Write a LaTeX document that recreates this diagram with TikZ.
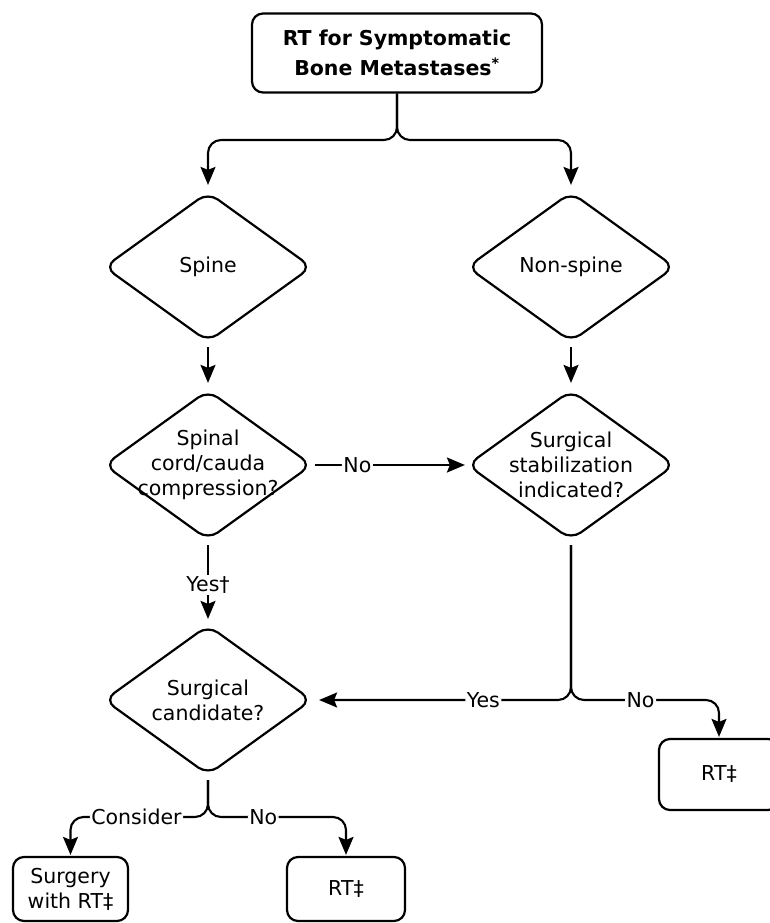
\documentclass[tikz,border=0pt]{standalone}
\usepackage{fontspec}
\setmainfont{DejaVu Sans}
\usetikzlibrary{shapes.geometric,arrows.meta}
\begin{document}
\begin{tikzpicture}[x=1pt,y=-1pt,
  every node/.style={font=\fontsize{20.5}{25}\selectfont},
  dec/.style={draw, diamond, inner sep=0pt, minimum width=208pt, minimum height=150pt, rounded corners=12pt, line width=2.2pt},
  dtext/.style={align=center, inner sep=0pt},
  box/.style={draw, rectangle, rounded corners=11pt, line width=2.2pt, align=center, inner sep=0pt},
  conn/.style={line width=2.1pt, rounded corners=13pt},
  arr/.style={conn, -{Stealth[length=18pt,width=15pt,inset=3pt]}},
  lab/.style={fill=white, inner sep=1.5pt}
]
\useasboundingbox (0,0) rectangle (769,923);

\node[box, minimum width=290pt, minimum height=79pt, font=\bfseries\fontsize{20.5}{30}\selectfont] (top) at (397,53) {RT for Symptomatic\\Bone Metastases\textsuperscript{*}};

\node[dec] (spine) at (208,267) {};
\node[dtext] (spineT) at (spine) {Spine};
\node[dec] (nons) at (571,267) {};
\node[dtext] (nonsT) at (nons) {Non-spine};
\node[dec] (cord) at (208,465) {};
\node[dtext] (cordT) at (cord) {Spinal\\cord/cauda\\compression?};
\node[dec] (stab) at (571,465) {};
\node[dtext] (stabT) at (stab) {Surgical\\stabilization\\indicated?};
\node[dec] (cand) at (208,700) {};
\node[dtext] (candT) at (cand) {Surgical\\candidate?};

\node[box, minimum width=120pt, minimum height=71pt] (rtA) at (719,774.5) {RT‡};
\node[box, minimum width=115pt, minimum height=64pt] (surg) at (70.5,889) {Surgery\\with RT‡};
\node[box, minimum width=118pt, minimum height=64pt] (rtB) at (346,889) {RT‡};

\coordinate (b1) at (397,140);
\coordinate (b2) at (571,700);
\coordinate (b3) at (719,700);
\coordinate (b4) at (208,817);
\coordinate (b5) at (70.5,817);
\coordinate (b6) at (346,817);

\draw[arr, shorten >=6pt] (top.south) -- (b1) -| (spine.north);
\draw[arr, shorten >=6pt] (top.south) -- (b1) -| (nons.north);

\draw[arr, shorten <=4pt, shorten >=6pt] (spine.south) -- (cord.north);
\draw[arr, shorten <=4pt, shorten >=6pt] (nons.south) -- (stab.north);

\draw[arr, shorten <=2pt, shorten >=1pt] (cord.east) -- node[lab, pos=0.29]{No} (stab.west);
\draw[arr, shorten <=4pt, shorten >=5pt] (cord.south) -- node[lab, pos=0.53]{Yes†} (cand.north);

\draw[arr, shorten <=4pt, shorten >=6pt] (stab.south) -- (b2) -- node[lab, pos=0.34]{Yes} (cand.east);
\draw[arr, shorten <=4pt, shorten >=1pt] (stab.south) -- (b2) -- node[lab, pos=0.47]{No} (b3) -- (rtA.north);

\draw[arr, shorten <=4pt, shorten >=1pt] (cand.south) -- (b4) -- node[lab, pos=0.52]{Consider} (b5) -- (surg.north);
\draw[arr, shorten <=4pt, shorten >=1pt] (cand.south) -- (b4) -- node[lab, pos=0.40]{No} (b6) -- (rtB.north);
\end{tikzpicture}
\end{document}
